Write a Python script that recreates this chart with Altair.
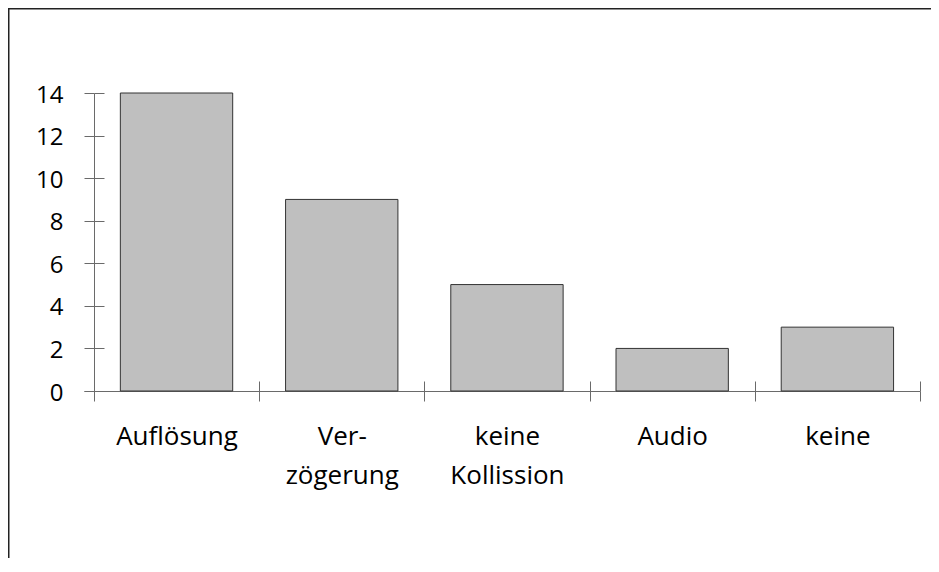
import altair as alt
import pandas as pd

categories = ["Auflösung", "Ver-|zögerung", "keine|Kollission", "Audio", "keine"]
values = [14, 9, 5, 2, 3]
y_ticks = [0, 2, 4, 6, 8, 10, 12, 14]

df = pd.DataFrame({"cat": categories, "val": values})

W, H = 923, 550
FONT = "Open Sans"
AX = "#6a6a6a"

x_scale = alt.Scale(range=[76, 912], paddingInner=0, paddingOuter=0.03, align=1)
y_scale = alt.Scale(domain=[-0.4228, 14], range=[392, 85], nice=False, zero=False)

base = alt.Chart(df)

bars = base.mark_bar(
    fill="#bfbfbf", stroke="#333333", strokeWidth=1,
    width=alt.RelativeBandSize(0.68)
).encode(
    x=alt.X("cat:N", sort=categories, scale=x_scale, title=None,
            axis=alt.Axis(orient="bottom", offset=-(H - 383), tickSize=10, tickBand="extent",
                          domainColor=AX, tickColor=AX, labelAngle=0,
                          labelFont=FONT, labelFontSize=26, labelColor="black",
                          labelPadding=22, labelLineHeight=39, labelBaseline="top",
                          labelExpr="split(datum.label, '|')", grid=False)),
    y=alt.Y("val:Q", scale=y_scale, title=None,
            axis=alt.Axis(orient="left", offset=-86, values=y_ticks, tickSize=10,
                          domainColor=AX, tickColor=AX, labelFont=FONT, labelFontSize=24,
                          labelColor="black", labelPadding=21, labelOffset=2, grid=False)),
)

inner = base.mark_bar(opacity=0, width=alt.RelativeBandSize(0.68)).encode(
    x=alt.X("cat:N", sort=categories, scale=x_scale, title=None,
            axis=alt.Axis(orient="top", offset=-383, tickSize=10, tickBand="extent",
                          domain=False, labels=False, tickColor=AX, grid=False)),
    y=alt.Y("val:Q", scale=y_scale, title=None,
            axis=alt.Axis(orient="right", offset=-(W - 86), values=y_ticks, tickSize=10,
                          domain=False, labels=False, tickColor=AX, grid=False)),
)

frame_top = alt.Chart(pd.DataFrame({"k": [0]})).mark_rule(color="#222222", strokeWidth=1.5).encode(
    x=alt.value(0), x2=alt.value(W), y=alt.value(0.75)
)
frame_left = alt.Chart(pd.DataFrame({"k": [0]})).mark_rule(color="#222222", strokeWidth=1.5).encode(
    x=alt.value(0.75), y=alt.value(0), y2=alt.value(H)
)

chart = alt.layer(bars, inner, frame_top, frame_left).resolve_axis(
    x="independent", y="independent"
).properties(
    width=W, height=H, autosize=alt.AutoSizeParams(type="none"), padding=0
).configure_view(stroke=None).configure(background="white")

chart.save("out.html", embed_options={"renderer": "svg", "actions": False})
